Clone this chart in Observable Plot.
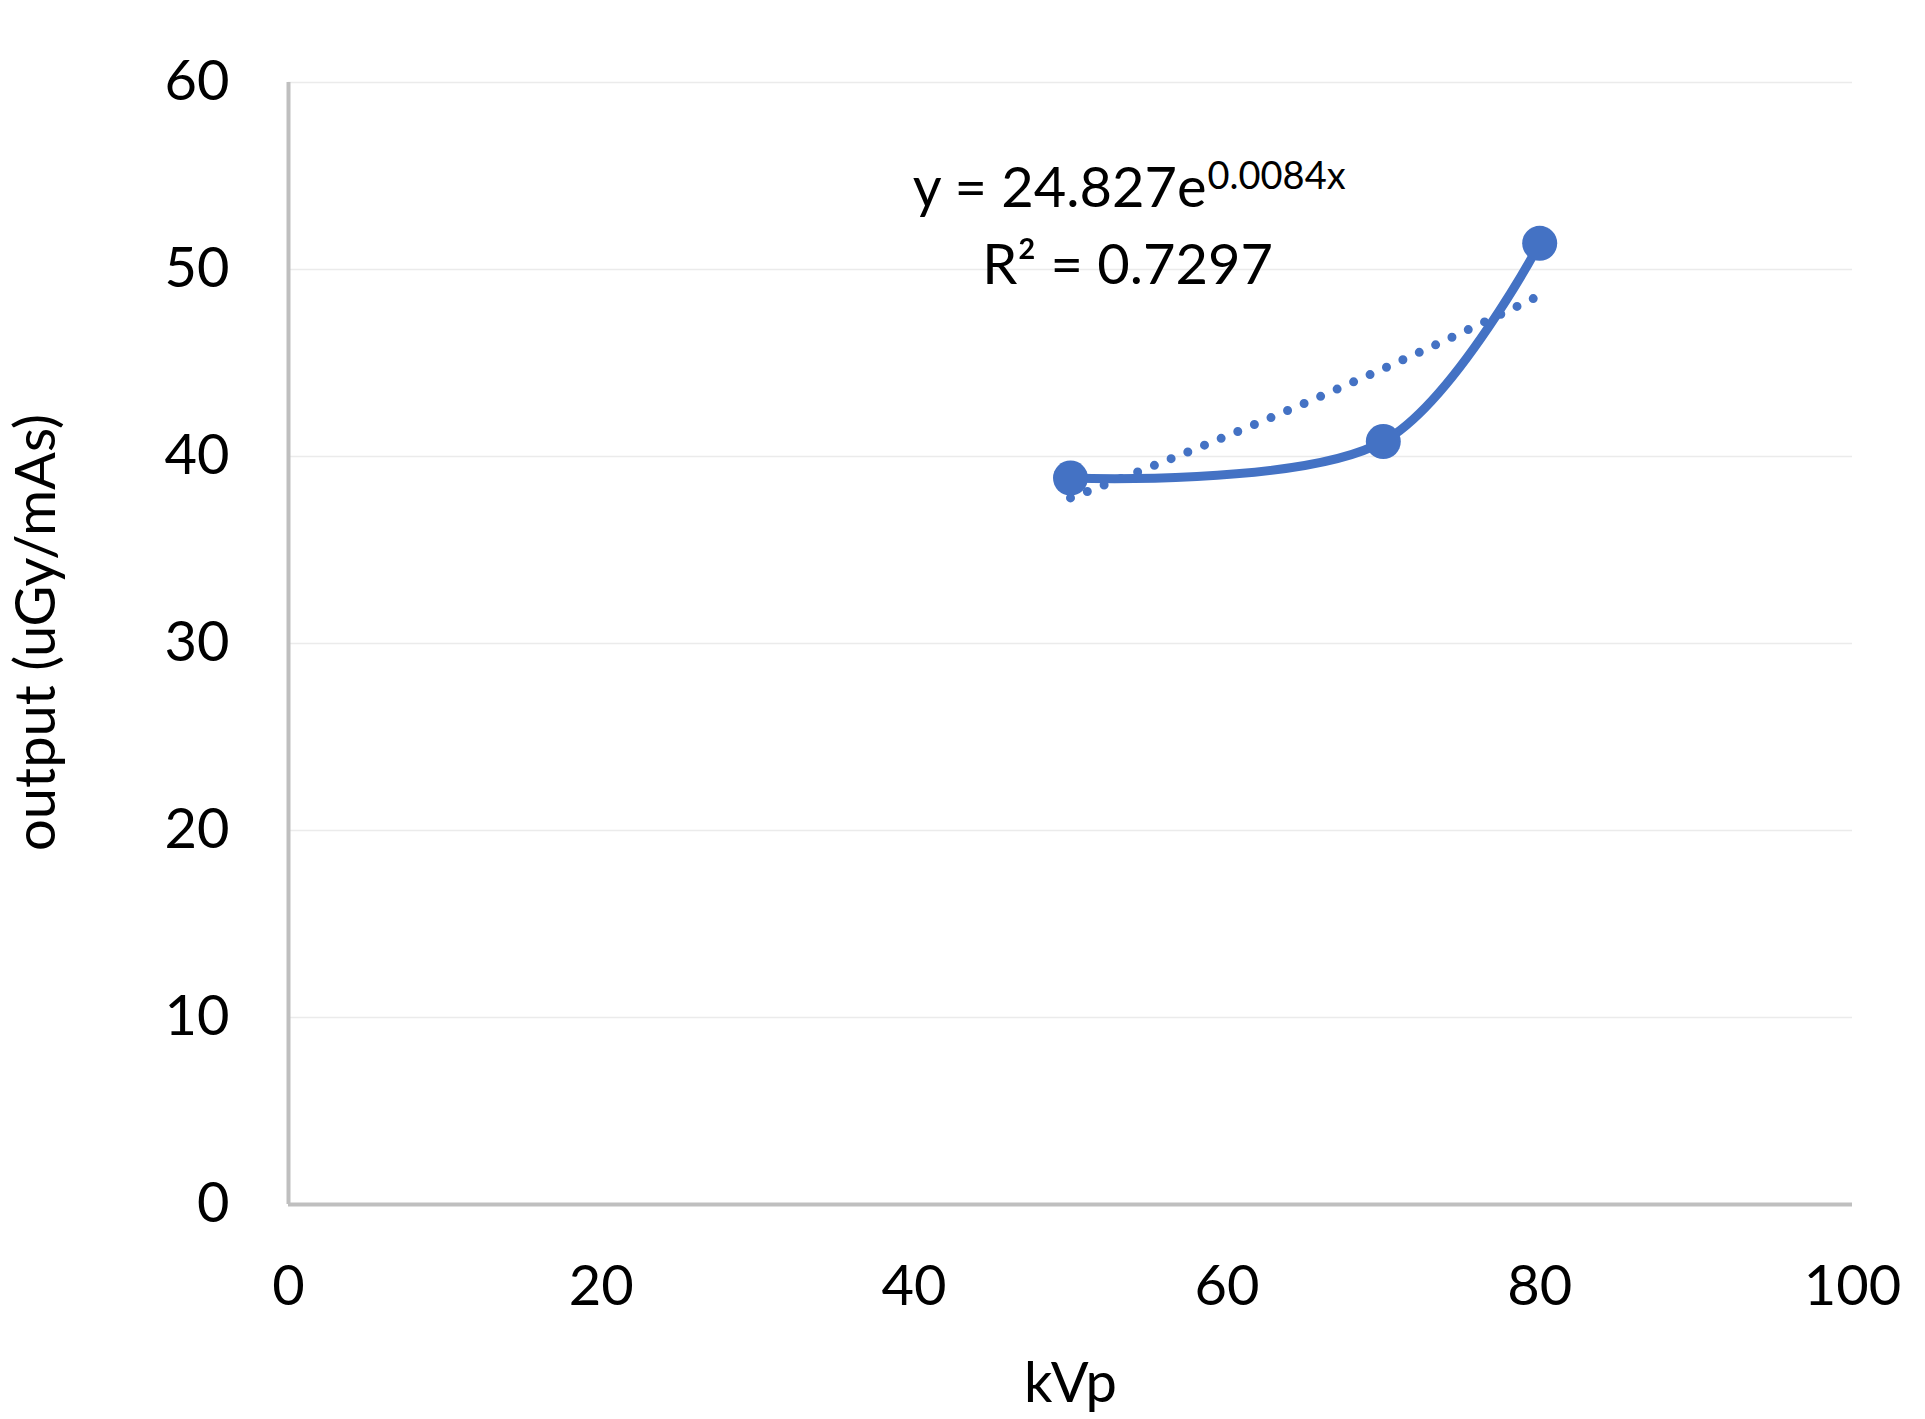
<!DOCTYPE html>
<html>
<head>
<meta charset="utf-8">
<script src="https://cdn.jsdelivr.net/npm/d3@7"></script>
<script src="https://cdn.jsdelivr.net/npm/@observablehq/plot@0.6"></script>
<style>
  html, body { margin: 0; padding: 0; background: #ffffff; }
  svg { display: block; }
</style>
</head>
<body>
<div id="chart"></div>
<script>
// ---- data ----
const kvp = [50, 70, 80];
const output = [38.85, 40.8, 51.4];
const xTicks = [0, 20, 40, 60, 80, 100];
const yTicks = [0, 10, 20, 30, 40, 50, 60];
const trendA = 24.827;
const trendB = 0.0084;
const equationMain = "y = 24.827e";
const equationExp = "0.0084x";
const r2Text = "R² = 0.7297";
const xLabel = "kVp";
const yLabel = "output (uGy/mAs)";

// ---- derived tables ----
const points = kvp.map((k, i) => ({ kvp: k, output: output[i] }));
const [t0, t1] = d3.extent(kvp);
const trend = d3.range(t0, t1 + 0.001, 0.25).map(x => ({ kvp: x, output: trendA * Math.exp(trendB * x) }));

const blue = "#4472C4";
const font = "Lato, 'Open Sans', sans-serif";

const chart = Plot.plot({
  width: 1925,
  height: 1419,
  marginLeft: 288,
  marginRight: 73,
  marginTop: 82,
  marginBottom: 215,
  style: { fontFamily: font, background: "#ffffff", color: "#000000" },
  x: { domain: [0, 100], label: null },
  y: { domain: [0, 60], label: null },
  marks: [
    Plot.gridY(yTicks.filter(d => d > 0), { stroke: "#ebebeb", strokeOpacity: 1, strokeWidth: 1.5 }),
    Plot.ruleX([0], { stroke: "#bfbfbf", strokeWidth: 4 }),
    Plot.ruleY([0], { stroke: "#bfbfbf", strokeWidth: 4 }),
    Plot.axisX(xTicks, { tickSize: 0, tickPadding: 61, fontSize: 56, label: null, fill: "#000" }),
    Plot.axisY(yTicks, { tickSize: 0, tickPadding: 59, fontSize: 56, label: null, fill: "#000" }),
    // exponential trendline (dotted)
    Plot.line(trend, {
      x: "kvp", y: "output", stroke: blue, strokeWidth: 9,
      strokeDasharray: "0 18", strokeLinecap: "round"
    }),
    // smoothed data line
    Plot.line(points, { x: "kvp", y: "output", curve: "catmull-rom", stroke: blue, strokeWidth: 9 }),
    Plot.dot(points, { x: "kvp", y: "output", r: 17.5, fill: blue, stroke: "none" }),
    // trendline label
    Plot.text([{ t: equationMain, x: 58.7, y: 54.3 }], {
      x: "x", y: "y", text: "t", textAnchor: "end", fontSize: 56, fill: "#000"
    }),
    Plot.text([{ t: equationExp, x: 58.76, y: 54.93 }], {
      x: "x", y: "y", text: "t", textAnchor: "start", fontSize: 38, fill: "#000"
    }),
    Plot.text([{ t: r2Text, x: 53.65, y: 50.2 }], {
      x: "x", y: "y", text: "t", textAnchor: "middle", fontSize: 56, fill: "#000"
    }),
    // axis titles
    Plot.text([xLabel], { frameAnchor: "bottom", textAnchor: "middle", dy: 197, fontSize: 56, fill: "#000" }),
    Plot.text([yLabel], { frameAnchor: "left", textAnchor: "middle", rotate: -90, dx: -251, dy: -11, fontSize: 56, fill: "#000" })
  ]
});

document.getElementById("chart").appendChild(chart);
</script>
</body>
</html>
